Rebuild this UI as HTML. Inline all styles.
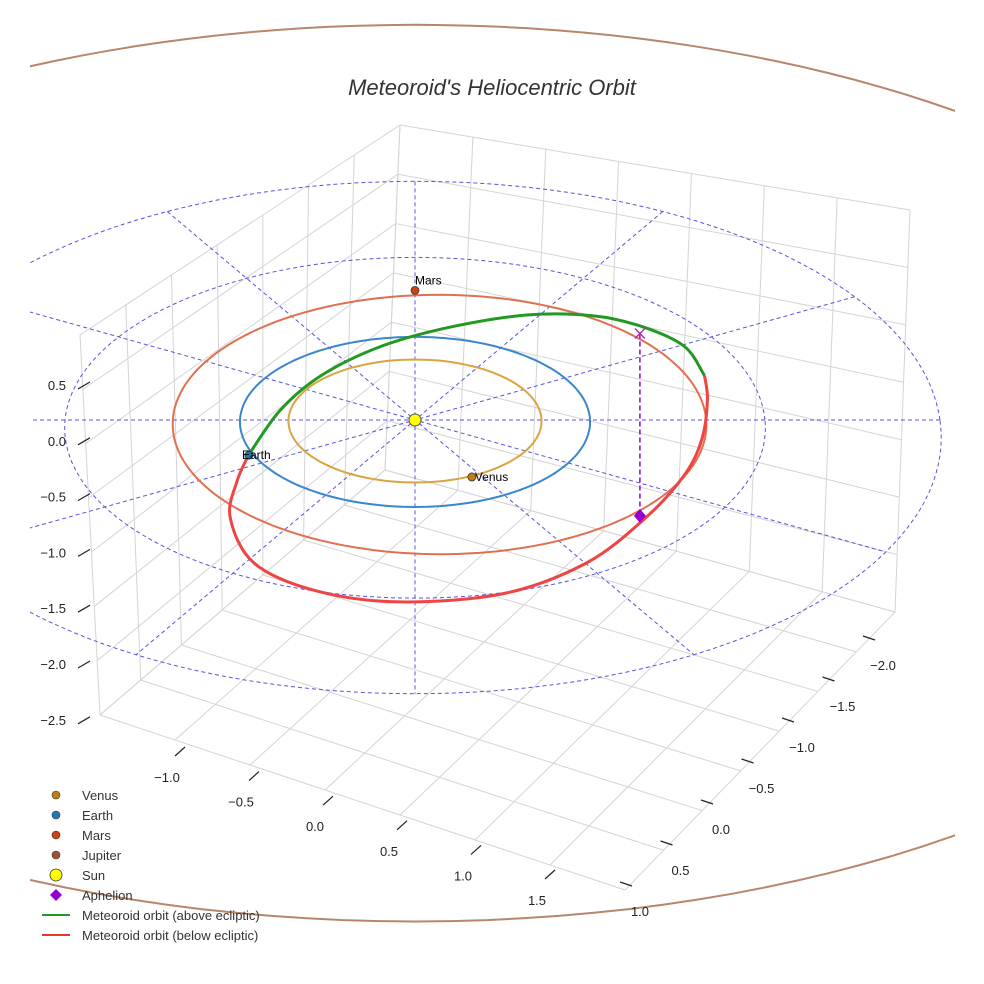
<!DOCTYPE html>
<html><head><meta charset="utf-8"><style>
body{margin:0;background:#fff;}
svg{display:block;font-family:"Liberation Sans",sans-serif;}
</style></head><body>
<svg id="chart" width="984" height="984" viewBox="0 0 984 984">
<defs><clipPath id="plotclip"><rect x="30" y="0" width="925" height="984"/></clipPath></defs>
<rect width="984" height="984" fill="#fff"/>
<g id="box"></g>
<g clip-path="url(#plotclip)"><g id="refgrid"></g><g id="orbits"></g></g>
<g id="meteor"></g><g id="marks"></g><g id="axes"></g>
<text x="492" y="95" text-anchor="middle" font-size="22" font-style="italic" fill="#333">Meteoroid's Heliocentric Orbit</text>
<g id="legend"></g>
</svg>
<script>
// ---- data ----
const planetNames = ["Venus","Earth","Mars","Jupiter"];
const planetA = [0.723, 1.0, 1.524, 5.2];
const planetFocusShift = [0.0, 0.0, 0.14, 0.0];
const planetOrbitColors = ["#d9a441","#3a86cf","#e07050","#b8866a"];
const planetDotColors = ["#c47d12","#1f77b4","#cc4411","#a0522d"];
const planetPosX = [0.32, -0.94, 0.0, null];
const planetPosY = [-0.66, -0.41, 1.58, null];
const refRadii = [2, 3];
const spokeAngles = [0, 30, 60, 90, 120, 150];
const aboveX = [-0.943,-0.771,-0.543,-0.2,0.2,0.657,1.057,1.343,1.571,1.674];
const aboveY = [-0.412,0.118,0.529,0.882,1.118,1.271,1.259,1.118,0.882,0.529];
const belowX = [1.674,1.68,1.629,1.514,1.286,0.943,0.486,-0.086,-0.543,-0.886,-1.029,-1.0,-0.943];
const belowY = [0.529,0.235,-0.235,-0.647,-1.118,-1.62,-1.95,-2.04,-1.92,-1.62,-1.118,-0.706,-0.412];
const aphelionX = [1.253];
const aphelionY = [-1.1];
const aphelionZ = [1.6];
const zTicks = ["0.5","0.0","−0.5","−1.0","−1.5","−2.0","−2.5"];
const xTicks = ["−1.0","−0.5","0.0","0.5","1.0","1.5"];
const yTicks = ["−2.0","−1.5","−1.0","−0.5","0.0","0.5","1.0"];

const NS="http://www.w3.org/2000/svg";
function mk(tag,parent,attrs){const e=document.createElementNS(NS,tag);for(const k in attrs)e.setAttribute(k,attrs[k]);document.getElementById(parent).appendChild(e);return e;}
function P(X,Y){const f=1/(1+0.0228*Y);return [415+X*175*f,420-Y*85*f];}
function smoothFrom(xs,ys){const pts=xs.map((x,i)=>P(x,ys[i]));let d="M"+pts[0][0].toFixed(1)+","+pts[0][1].toFixed(1);
for(let i=0;i<pts.length-1;i++){const p0=pts[Math.max(0,i-1)],p1=pts[i],p2=pts[i+1],p3=pts[Math.min(pts.length-1,i+2)];
const c1=[p1[0]+(p2[0]-p0[0])/6,p1[1]+(p2[1]-p0[1])/6],c2=[p2[0]-(p3[0]-p1[0])/6,p2[1]-(p3[1]-p1[1])/6];
d+="C"+c1[0].toFixed(1)+","+c1[1].toFixed(1)+" "+c2[0].toFixed(1)+","+c2[1].toFixed(1)+" "+p2[0].toFixed(1)+","+p2[1].toFixed(1);}return d;}
function circlePath(r,cx){let d="";for(let i=0;i<=180;i++){const t=i/180*2*Math.PI;const p=P(cx+r*Math.cos(t),r*Math.sin(t));d+=(i?"L":"M")+p[0].toFixed(1)+","+p[1].toFixed(1);}return d;}

// ---- 3D box ----
const L=[100,715],F=[625,890],R=[895,612],B=[385,470],Lt=[80,335],Bt=[400,125],Rt=[910,210];
function bil(a,b,c,d,u,v){return [a[0]*(1-u)*(1-v)+b[0]*u*(1-v)+c[0]*u*v+d[0]*(1-u)*v,a[1]*(1-u)*(1-v)+b[1]*u*(1-v)+c[1]*u*v+d[1]*(1-u)*v];}
function gl(p,q,name){const e=mk("line","box",{x1:p[0],y1:p[1],x2:q[0],y2:q[1],stroke:"#d4d4d4","stroke-width":1});

}
for(let i=0;i<=7;i++){const t=i/7;
 gl(bil(L,F,R,B,t,0),bil(L,F,R,B,t,1),"floor-grid-line");
 gl(bil(L,F,R,B,0,t),bil(L,F,R,B,1,t),"floor-grid-line");
 gl(bil(L,B,Bt,Lt,t,0),bil(L,B,Bt,Lt,t,1),"left-wall-grid-line");
 gl(bil(L,B,Bt,Lt,0,t),bil(L,B,Bt,Lt,1,t),"left-wall-grid-line");
 gl(bil(B,R,Rt,Bt,t,0),bil(B,R,Rt,Bt,t,1),"right-wall-grid-line");
 gl(bil(B,R,Rt,Bt,0,t),bil(B,R,Rt,Bt,1,t),"right-wall-grid-line");}

// ---- reference circles & spokes ----
refRadii.forEach(r=>{const e=mk("path","refgrid",{d:circlePath(r,0),fill:"none",stroke:"#5555dd","stroke-width":1,"stroke-dasharray":"4,3"});

});
spokeAngles.forEach(a=>{const t=a*Math.PI/180,r=3;const p=P(r*Math.cos(t),r*Math.sin(t)),q=P(-r*Math.cos(t),-r*Math.sin(t));
const e=mk("line","refgrid",{x1:p[0],y1:p[1],x2:q[0],y2:q[1],stroke:"#5555dd","stroke-width":1,"stroke-dasharray":"4,3"});

});

// ---- planet orbits ----
planetNames.forEach((n,i)=>{const e=mk("path","orbits",{d:circlePath(planetA[i],planetFocusShift[i]),fill:"none",stroke:planetOrbitColors[i],"stroke-width":2});

});

// ---- meteoroid ----
let e=mk("path","meteor",{d:smoothFrom(belowX,belowY),fill:"none",stroke:"#ee4444","stroke-width":3});


e=mk("path","meteor",{d:smoothFrom(aboveX,aboveY),fill:"none",stroke:"#229922","stroke-width":3});


const ap=P(aphelionX[0],aphelionY[0]),at=[ap[0],ap[1]-aphelionZ[0]*114];
e=mk("line","marks",{x1:at[0],y1:at[1],x2:ap[0],y2:ap[1],stroke:"#9400d3","stroke-width":1.5,"stroke-dasharray":"5,3"});


e=mk("path","marks",{d:`M${at[0]-5},${at[1]-5}L${at[0]+5},${at[1]+5}M${at[0]+5},${at[1]-5}L${at[0]-5},${at[1]+5}`,stroke:"#b030c0","stroke-width":1.5,fill:"none"});


e=mk("path","marks",{d:`M${ap[0]},${ap[1]-7}L${ap[0]+6},${ap[1]}L${ap[0]},${ap[1]+7}L${ap[0]-6},${ap[1]}Z`,fill:"#9400d3"});



// ---- planets & sun ----
planetNames.forEach((n,i)=>{if(planetPosX[i]===null)return;const p=P(planetPosX[i],planetPosY[i]);
const c=mk("circle","marks",{cx:p[0],cy:p[1],r:4,fill:planetDotColors[i],stroke:"#333","stroke-width":0.8});


const t=mk("text","marks",{x:p[0]+(n==="Mars"?0:(n==="Earth"?-7:3)),y:p[1]+(n==="Mars"?-6:4),"font-size":12,fill:"#000"});t.textContent=n;

});
const s=P(0,0);
e=mk("circle","marks",{cx:s[0],cy:s[1],r:6,fill:"#ffff00",stroke:"#555","stroke-width":1});



// ---- axes ----
zTicks.forEach((t,i)=>{const y=385+i*55.8;
const l=mk("line","axes",{x1:78,y1:y+4,x2:90,y2:y-3,stroke:"#222","stroke-width":1.2});


const tx=mk("text","axes",{x:66,y:y+5,"text-anchor":"end","font-size":13,fill:"#222"});tx.textContent=t;

});
xTicks.forEach((t,i)=>{const x=175+i*74,y=752+i*24.6;
const l=mk("line","axes",{x1:x,y1:y+4,x2:x+10,y2:y-5,stroke:"#222","stroke-width":1.2});


const tx=mk("text","axes",{x:x-8,y:y+30,"text-anchor":"middle","font-size":13,fill:"#222"});tx.textContent=t;

});
yTicks.forEach((t,i)=>{const x=875-i*40.5,y=640+i*41;
const l=mk("line","axes",{x1:x-12,y1:y-4,x2:x,y2:y,stroke:"#222","stroke-width":1.2});


const tx=mk("text","axes",{x:x+8,y:y+30,"text-anchor":"middle","font-size":13,fill:"#222"});tx.textContent=t;

});

// ---- legend ----
const legLabels=["Venus","Earth","Mars","Jupiter","Sun","Aphelion","Meteoroid orbit (above ecliptic)","Meteoroid orbit (below ecliptic)"];
legLabels.forEach((lab,i)=>{const y=795+i*20;
const g=mk("g","legend",{});


let m;
if(i<4)m=mk("circle","legend",{cx:56,cy:y,r:4,fill:planetDotColors[i],stroke:"#333","stroke-width":0.6});
else if(i===4)m=mk("circle","legend",{cx:56,cy:y,r:6,fill:"#ffff00",stroke:"#333","stroke-width":0.8});
else if(i===5)m=mk("path","legend",{d:`M56,${y-6}L62,${y}L56,${y+6}L50,${y}Z`,fill:"#9400d3"});
else m=mk("line","legend",{x1:42,y1:y,x2:70,y2:y,stroke:i===6?"#229922":"#ee3333","stroke-width":2});


const tx=mk("text","legend",{x:82,y:y+5,"font-size":13,fill:"#333"});tx.textContent=lab;

});
</script>
</body></html>
